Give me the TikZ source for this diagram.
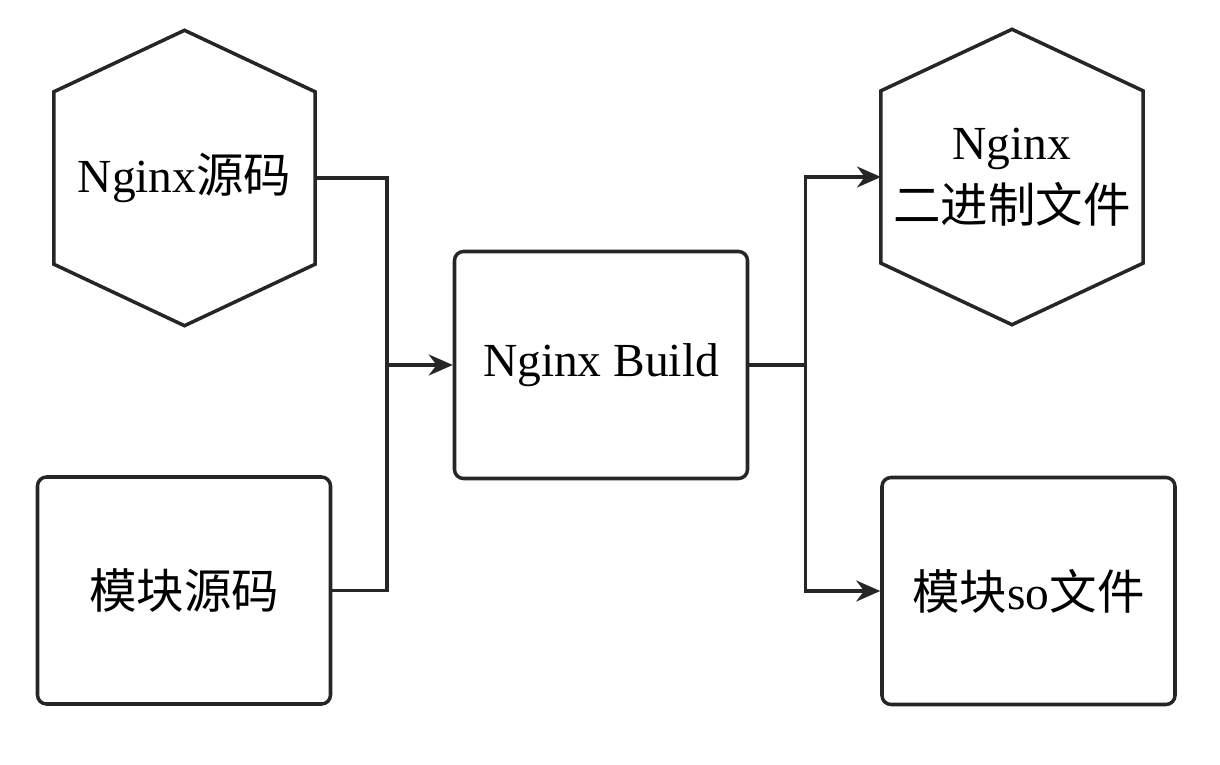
\documentclass[tikz,border=0pt]{standalone}
\usepackage{fontspec}
\setmainfont{Liberation Serif}
\newfontfamily\cjk{Noto Sans CJK SC}
\usetikzlibrary{arrows.meta}
\tikzset{
  >={Stealth[length=2.4mm,width=2.1mm]},
  box/.style={
    draw=black!85,
    line width=1pt,
    rounded corners=0.9mm,
    align=center,
    minimum width=2.93cm,
    minimum height=2.27cm,
    font=\fontsize{13.5}{18}\selectfont
  },
  hexbox/.style={
    align=center,
    minimum width=2.6cm,
    minimum height=2.94cm,
    font=\fontsize{13.5}{18}\selectfont
  },
  conn/.style={draw=black!85, line width=1pt}
}

\begin{document}
\begin{tikzpicture}
  \useasboundingbox (0,0) rectangle (12.2,7.64);

  \node[hexbox] (src) at (1.845,5.86) {Nginx{\cjk 源码}};
  \node[box] (mod) at (1.84,1.735) {\cjk 模块源码};
  \node[box] (build) at (6.01,3.99) {Nginx Build};
  \node[hexbox] (bin) at (10.12,5.87) {Nginx\\{\cjk 二进制文件}};
  \node[box] (so) at (10.285,1.73) {{\cjk 模块}so{\cjk 文件}};

  % hexagon outlines
  \foreach \n in {src,bin}
    \draw[conn] (\n.north) -- ([yshift=-0.615cm]\n.north east)
      -- ([yshift=0.615cm]\n.south east) -- (\n.south)
      -- ([yshift=0.615cm]\n.south west)
      -- ([yshift=-0.615cm]\n.north west) -- cycle;

  \coordinate (jl) at ([xshift=-0.66cm]build.west);
  \coordinate (jr) at ([xshift=0.56cm]build.east);

  \draw[conn] (src.east) -| (jl);
  \draw[conn] (mod.east) -| (jl);
  \draw[conn,->] (jl) -- (build.west);
  \draw[conn] (build.east) -- (jr);
  \draw[conn,->] (jr) |- (bin.west);
  \draw[conn,->] (jr) |- (so.west);
\end{tikzpicture}
\end{document}
